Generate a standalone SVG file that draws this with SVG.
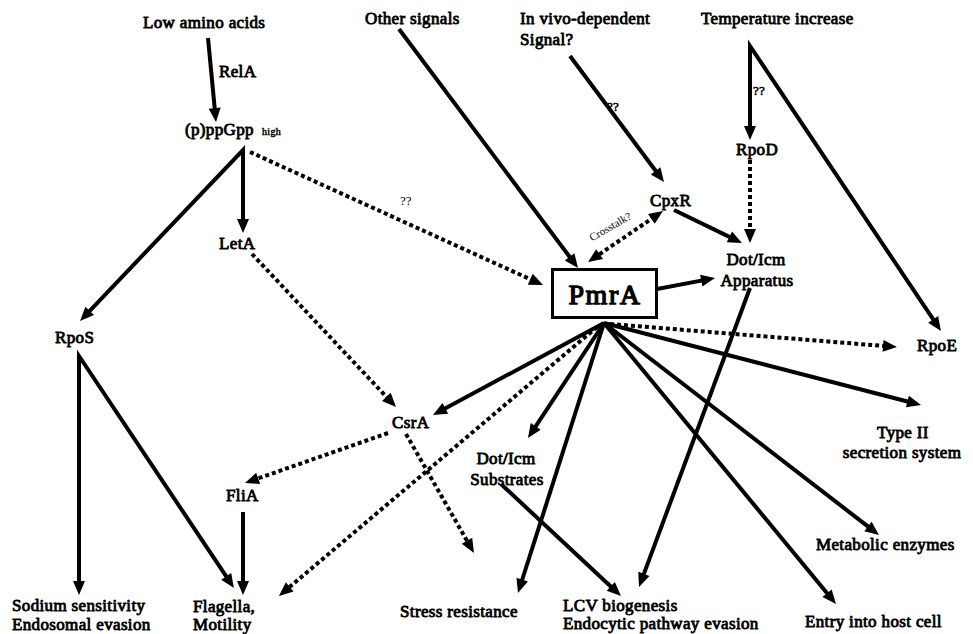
<svg xmlns="http://www.w3.org/2000/svg" width="973" height="634" viewBox="0 0 973 634">
<style>
.t{font-family:'Liberation Serif','Times New Roman',serif;font-weight:normal;font-size:17px;fill:#000;stroke:#000;stroke-width:0.85;stroke-linejoin:round;letter-spacing:0.35px}
.m{text-anchor:middle}
.sm{font-size:13px}
.nb{stroke:none;letter-spacing:0}
.ln{stroke:#000;stroke-width:4;fill:none;stroke-linejoin:miter}
.ar{marker-end:url(#a)}
.dt{stroke-dasharray:4 3}
</style>
<defs>
<marker id="a" viewBox="-5 -7 16 14" markerWidth="16" markerHeight="14" refX="0" refY="0" orient="auto-start-reverse" markerUnits="userSpaceOnUse">
<path d="M-4,-6 L10,0 L-4,6 z" fill="#000"/>
</marker>
</defs>
<rect width="973" height="634" fill="#fff"/>

<g id="connectors">
<line class="ln ar" x1="208" y1="38" x2="215.05" y2="112.05"/>
<polyline class="ln ar" points="86.9,313.8 243,150 243,223" style="marker-start:url(#a)"/>
<line class="ln ar dt" x1="250" y1="152" x2="533.9" y2="280.9"/>
<line class="ln ar dt" x1="252" y1="254" x2="389.1" y2="399.7"/>
<polyline class="ln ar" points="79,585 79,356 228.4,579.7" style="marker-start:url(#a)"/>
<line class="ln ar" x1="243" y1="512" x2="243" y2="585"/>
<line class="ln ar dt" x1="388" y1="433" x2="254.4" y2="479.7"/>
<line class="ln ar dt" x1="406" y1="434" x2="469" y2="544.3"/>
<line class="ln ar dt" x1="597" y1="327" x2="286.6" y2="589.5"/>
<line class="ln ar" x1="604" y1="323" x2="441.8" y2="410.3"/>
<line class="ln ar" x1="604" y1="323" x2="533.5" y2="429.7"/>
<line class="ln ar" x1="604" y1="323" x2="521" y2="583.5"/>
<line class="ln ar" x1="604" y1="323" x2="829.6" y2="596.3"/>
<line class="ln ar" x1="604" y1="323" x2="871.1" y2="528.9"/>
<line class="ln ar" x1="604" y1="323" x2="911.3" y2="402.5"/>
<line class="ln ar dt" x1="610" y1="324" x2="887" y2="346.2"/>
<line class="ln ar" x1="657" y1="289" x2="705.2" y2="279.9"/>
<line class="ln ar" x1="750" y1="288" x2="642.5" y2="577.6"/>
<line class="ln ar" x1="501" y1="484" x2="613.7" y2="589.2"/>
<polyline class="ln ar" points="750,130 750,46 935.4,322.7" style="marker-start:url(#a)"/>
<line class="ln ar dt" x1="750" y1="160" x2="750" y2="233"/>
<line class="ln ar" x1="674" y1="210" x2="733" y2="238.6"/>
<line class="ln ar" x1="570" y1="56" x2="658" y2="174"/>
<line class="ln ar" x1="399" y1="29" x2="572" y2="260"/>
<line class="ln ar dt" x1="654.7" y1="216.6" x2="596.3" y2="256.4" style="marker-start:url(#a)"/>
<text class="t" x="219" y="77">RelA</text>
<text class="t sm nb" x="400" y="205">??</text>
<text class="t sm" x="607" y="111" style="stroke-width:0.5">??</text>
<text class="t sm" x="753" y="95" style="stroke-width:0.5">??</text>
<text class="t nb" x="0" y="0" transform="translate(612,230) rotate(-30)" style="font-size:11px;text-anchor:middle">Crosstalk?</text>
</g>

<g id="low-amino-acids"><text class="t" x="143" y="28">Low amino acids</text></g>
<g id="other-signals"><text class="t" x="365" y="24">Other signals</text></g>
<g id="in-vivo-signal"><text class="t" x="520" y="24">In vivo-dependent</text><text class="t" x="520" y="45">Signal?</text></g>
<g id="temperature-increase"><text class="t" x="701" y="24">Temperature increase</text></g>
<g id="ppgpp"><text class="t" x="185" y="135">(p)ppGpp</text><text class="t" x="262" y="135" style="font-size:10px;stroke-width:0.45">high</text></g>
<g id="rpod"><text class="t" x="736" y="155">RpoD</text></g>
<g id="cpxr"><text class="t" x="650" y="206">CpxR</text></g>
<g id="leta"><text class="t" x="219" y="249">LetA</text></g>
<g id="pmra"><rect x="552.5" y="269.5" width="104" height="48" fill="#fff" stroke="#000" stroke-width="3"/><text class="t m" x="605" y="304" style="font-size:28px;stroke-width:1.3;letter-spacing:1.5px">PmrA</text></g>
<g id="dot-icm-apparatus"><text class="t m" x="756" y="265">Dot/Icm</text><text class="t m" x="757" y="286">Apparatus</text></g>
<g id="rpos"><text class="t" x="55" y="343">RpoS</text></g>
<g id="rpoe"><text class="t" x="917" y="351">RpoE</text></g>
<g id="csra"><text class="t" x="392" y="428">CsrA</text></g>
<g id="type-ii"><text class="t m" x="903" y="438">Type II</text><text class="t m" x="902" y="458">secretion system</text></g>
<g id="dot-icm-substrates"><text class="t m" x="506" y="464">Dot/Icm</text><text class="t m" x="507" y="485">Substrates</text></g>
<g id="flia"><text class="t" x="226" y="501">FliA</text></g>
<g id="metabolic-enzymes"><text class="t" x="816" y="550">Metabolic enzymes</text></g>
<g id="sodium"><text class="t" x="12" y="611">Sodium sensitivity</text><text class="t" x="12" y="630">Endosomal evasion</text></g>
<g id="flagella"><text class="t" x="193" y="612">Flagella,</text><text class="t" x="193" y="630">Motility</text></g>
<g id="stress-resistance"><text class="t" x="400" y="617">Stress resistance</text></g>
<g id="lcv"><text class="t" x="563" y="611">LCV biogenesis</text><text class="t" x="563" y="629">Endocytic pathway evasion</text></g>
<g id="entry"><text class="t" x="805" y="627">Entry into host cell</text></g>
</svg>
